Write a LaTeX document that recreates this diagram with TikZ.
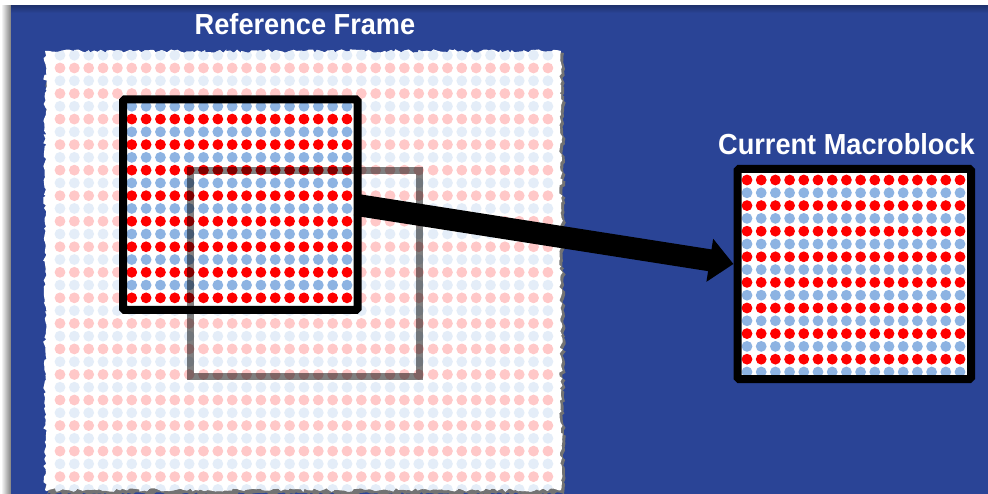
\documentclass[tikz,border=0pt]{standalone}
\usepackage{fontspec}
\setmainfont{Liberation Sans}
\usetikzlibrary{arrows.meta,decorations.pathmorphing}
\definecolor{panelblue}{RGB}{42,68,150}
\definecolor{palepink}{RGB}{255,200,200}
\definecolor{paleblue}{RGB}{228,237,248}
\definecolor{dotred}{RGB}{255,0,0}
\definecolor{dotblue}{RGB}{141,179,226}
\begin{document}
\begin{tikzpicture}[x=1pt,y=-1pt,
  titletext/.style={text=white, font=\bfseries\fontsize{29}{29}\selectfont, inner sep=0pt, anchor=base, xscale=0.937},
  torn/.style={decorate, decoration={random steps, segment length=3pt, amplitude=1.8pt}},
  blockarea/.style={fill=white, draw=none, inner sep=0pt, outer sep=0pt},
  blockborder/.style={draw=black, line width=8pt, rounded corners=1.5pt},
  searchbox/.style={draw=black, draw opacity=0.5, line width=7pt, inner sep=0pt, outer sep=0pt, minimum width=229pt, minimum height=205pt},
  motion/.style={line width=22pt, -{Triangle[width=42pt,length=24pt]}}]
\useasboundingbox (0,0) rectangle (988,494);
\fill[white] (0,0) rectangle (988,494);
% panel and its shadow
\shade[left color=white, right color=black!50] (1,6) rectangle (11,494);
\fill[panelblue] (11,6) rectangle (988,494);
\shade[top color=panelblue!75!black, bottom color=panelblue] (11,6) rectangle (988,13);
% paper shadow
\pgfmathsetseed{11}
\fill[black!55, torn] (47,53) -- (564,53) -- (564,494) -- (47,494) -- cycle;
% paper
\pgfmathsetseed{11}
\fill[white, torn] (45,51) -- (561,51) -- (561,490) -- (45,490) -- cycle;
\begin{scope}
  \pgfmathsetseed{11}
  \clip[torn] (45,51) -- (561,51) -- (561,490) -- (45,490) -- cycle;
  \foreach \r in {0,2,...,32} \foreach \c in {0,...,34}
    \fill[palepink] ({60+14.35*\c},{68+12.77*\r}) circle[radius=5.4];
  \foreach \r in {-1,1,...,33} \foreach \c in {0,...,34}
    \fill[paleblue] ({60+14.35*\c},{68+12.77*\r}) circle[radius=5.4];
\end{scope}
% reference macroblock
\node[blockarea, minimum width=234.5pt, minimum height=210.5pt] (mb) at (240.25,204.75) {};
\foreach \r in {4,6,...,18} \foreach \c in {5,...,20}
  \fill[dotred] ({60+14.35*\c},{68+12.77*\r}) circle[radius=5.4];
\foreach \r in {3,5,...,17} \foreach \c in {5,...,20}
  \fill[dotblue] ({60+14.35*\c},{68+12.77*\r}) circle[radius=5.4];
% search window
\node[searchbox] (search) at (304.5,273.5) {};
\draw[blockborder] (mb.north west) rectangle (mb.south east);
% current macroblock
\node[blockarea, minimum width=233.5pt, minimum height=210pt] (cur) at (854.25,274) {};
\begin{scope}
  \clip (cur.north west) rectangle (cur.south east);
  \foreach \r in {0,2,...,14} \foreach \c in {0,...,15}
    \fill[dotred] ({747+14.2*\c},{180+12.8*\r}) circle[radius=5.4];
  \foreach \r in {1,3,...,15} \foreach \c in {0,...,15}
    \fill[dotblue] ({747+14.2*\c},{180+12.8*\r}) circle[radius=5.4];
\end{scope}
\draw[blockborder] (cur.north west) rectangle (cur.south east);
% arrow
\draw[motion] ([xshift=-2pt]mb.east) -- ([xshift=-4pt,yshift=10pt]cur.west);
% titles
\node[titletext] (rftitle) at (305,35) {Reference Frame};
\node[titletext] (cmtitle) at (846.5,155) {Current Macroblock};
\end{tikzpicture}
\end{document}
